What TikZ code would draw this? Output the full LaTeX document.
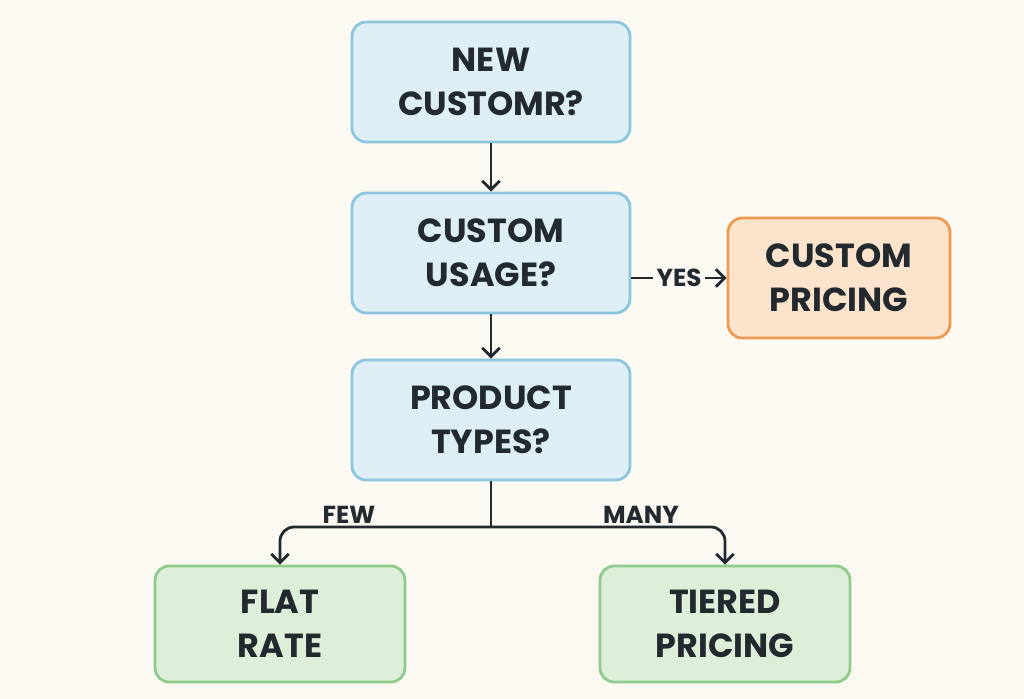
\documentclass[tikz,border=0pt]{standalone}
\usepackage{fontspec}
\setmainfont{Poppins}
\usetikzlibrary{positioning, arrows.meta}
\definecolor{paper}{HTML}{FBF9F1}
\definecolor{blueline}{HTML}{8CC6DE}
\definecolor{bluefill}{HTML}{DDEFF4}
\definecolor{orangeline}{HTML}{EE9A52}
\definecolor{orangefill}{HTML}{FBE3CC}
\definecolor{greenline}{HTML}{8ECB8C}
\definecolor{greenfill}{HTML}{DDEFD8}
\definecolor{ink}{HTML}{222A30}

\begin{document}
\begin{tikzpicture}[x=0.02cm, y=-0.02cm,
                    every node/.style={text=ink, font=\fontsize{19}{25}\selectfont\bfseries},
                    box/.style={draw, line width=1.6pt, rounded corners=8pt, align=center,
                                minimum width=5.56cm, minimum height=2.4cm},
                    ask/.style={box, draw=blueline, fill=bluefill},
                    special/.style={box, draw=orangeline, fill=orangefill, minimum width=4.44cm},
                    plan/.style={box, draw=greenline, fill=greenfill, minimum width=5cm, minimum height=2.32cm},
                    tag/.style={font=\fontsize{14}{16}\selectfont\bfseries},
                    flow/.style={draw=ink, line width=1.6pt, -{Straight Barb[length=5pt,width=10pt]}}]
\fill[paper] (0,0) rectangle (1024,699);
\node[ask] (new) at (491,82) {NEW\\CUSTOMR?};
\node[ask] (usage) at (491,253) {CUSTOM\\USAGE?};
\node[special] (custom) at (839,278) {CUSTOM\\PRICING};
\node[ask] (types) at (491,420) {PRODUCT\\TYPES?};
\node[plan] (flat) at (280,624) {FLAT\\RATE};
\node[plan] (tiered) at (725,624) {TIERED\\PRICING};
\coordinate (split) at (491,527);
\draw[flow] (new) -- (usage);
\draw[flow] (usage) -- (types);
\draw[flow] (usage.east |- custom.west) -- node[tag, fill=paper, inner sep=2pt] {YES} (custom.west);
\draw[line width=1.6pt, draw=ink] (types) -- (split);
\draw[flow, rounded corners=8pt] (split) -| (flat);
\draw[flow, rounded corners=8pt] (split) -| (tiered);
\node[tag] (few) at (349,515) {FEW};
\node[tag] (many) at (641,515) {MANY};
\end{tikzpicture}
\end{document}
